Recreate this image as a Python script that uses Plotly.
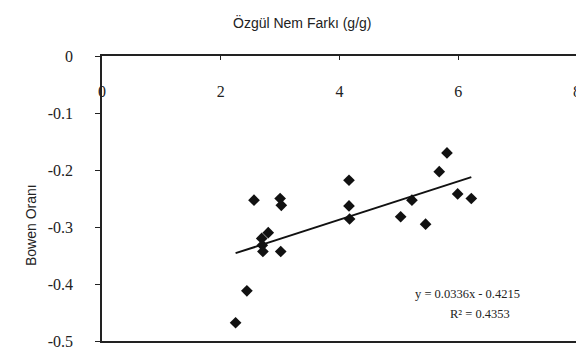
import plotly.graph_objects as go

# Data
nem_farki = [2.56, 3.00, 3.02, 2.80, 2.69, 2.70, 2.71, 3.01, 2.44, 2.25,
             4.16, 4.16, 4.17, 5.03, 5.45, 5.22, 5.68, 5.81, 5.99, 6.22]
bowen_orani = [-0.253, -0.250, -0.262, -0.310, -0.320, -0.332, -0.343, -0.343, -0.412, -0.468,
               -0.218, -0.263, -0.286, -0.282, -0.295, -0.253, -0.203, -0.170, -0.242, -0.250]

# Trendline coefficients as printed on the chart
slope = 0.0336
intercept = -0.4215
r_squared = 0.4353

x_ticks = [0, 2, 4, 6, 8]
x_tick_labels = ["0", "2", "4", "6", "8"]
y_ticks = [0, -0.1, -0.2, -0.3, -0.4, -0.5]
y_tick_labels = ["0", "-0.1", "-0.2", "-0.3", "-0.4", "-0.5"]

trend_x = [min(nem_farki), max(nem_farki)]
trend_y = [slope * v + intercept for v in trend_x]

serif = "Liberation Serif, Times New Roman, serif"
sans = "Liberation Sans, Arial, sans-serif"

# page body adds an 8px margin; the figure is sized to fit the window
OFF = 8
W, H = 584 - OFF, 350 - OFF
L, T = 102 - OFF, 56 - OFF
PW, PH = 475, 285

fig = go.Figure()
fig.add_trace(go.Scatter(
    x=nem_farki, y=bowen_orani, mode="markers",
    marker=dict(symbol="diamond", size=9, color="#111111"),
    showlegend=False, hoverinfo="x+y"))
fig.add_trace(go.Scatter(
    x=trend_x, y=trend_y, mode="lines",
    line=dict(color="#111111", width=2),
    showlegend=False, hoverinfo="skip"))
# invisible trace on the label axis so it is drawn
fig.add_trace(go.Scatter(
    x=x_ticks, y=[None] * len(x_ticks), xaxis="x2", mode="markers",
    showlegend=False, hoverinfo="skip"))

fig.update_layout(
    width=W, height=H,
    margin=dict(l=L, r=W - L - PW, t=T, b=H - T - PH, autoexpand=False),
    paper_bgcolor="white", plot_bgcolor="white",
    font=dict(family=serif, size=13, color="#222222"),
    xaxis=dict(
        range=[0, 8], side="top", tickvals=x_ticks, showticklabels=False,
        ticks="inside", ticklen=4, tickcolor="#222222",
        showline=True, linecolor="#222222", linewidth=2, mirror=True,
        showgrid=False, zeroline=False),
    xaxis2=dict(
        range=[0, 8], overlaying="x", anchor="free", side="bottom",
        position=1 - (80 - 56) / PH, ticklabeloverflow="allow",
        tickvals=x_ticks, ticktext=x_tick_labels, ticks="",
        showline=False, showgrid=False, zeroline=False,
        tickfont=dict(family=serif, size=16, color="#222222")),
    yaxis=dict(
        range=[-0.5, 0], tickvals=y_ticks, ticktext=y_tick_labels,
        ticks="outside", ticklen=5, tickcolor="#222222", ticklabelstandoff=19,
        showline=True, linecolor="#222222", linewidth=1.5, mirror=True,
        showgrid=False, zeroline=False,
        tickfont=dict(family=serif, size=16, color="#222222")),
    annotations=[
        dict(text="Özgül Nem Farkı (g/g)", xref="paper", yref="paper",
             x=(302 - 102) / PW, y=1 + (56 - 22) / PH, showarrow=False,
             xanchor="center", yanchor="middle",
             font=dict(family=sans, size=14, color="#222222")),
        dict(text="Bowen Oranı", xref="paper", yref="paper",
             x=-(102 - 31) / PW, y=1 - (225 - 56) / PH, showarrow=False,
             textangle=-90, xanchor="center", yanchor="middle",
             font=dict(family=sans, size=14, color="#222222")),
        dict(text=f"y = {slope}x - {abs(intercept)}", xref="x", yref="y",
             x=6.16, y=-0.418, showarrow=False, xanchor="center", yanchor="middle",
             font=dict(family=serif, size=12.5, color="#222222")),
        dict(text=f"R² = {r_squared}", xref="x", yref="y",
             x=6.36, y=-0.453, showarrow=False, xanchor="center", yanchor="middle",
             font=dict(family=serif, size=12.5, color="#222222")),
    ],
)

fig.write_html("out.html")
